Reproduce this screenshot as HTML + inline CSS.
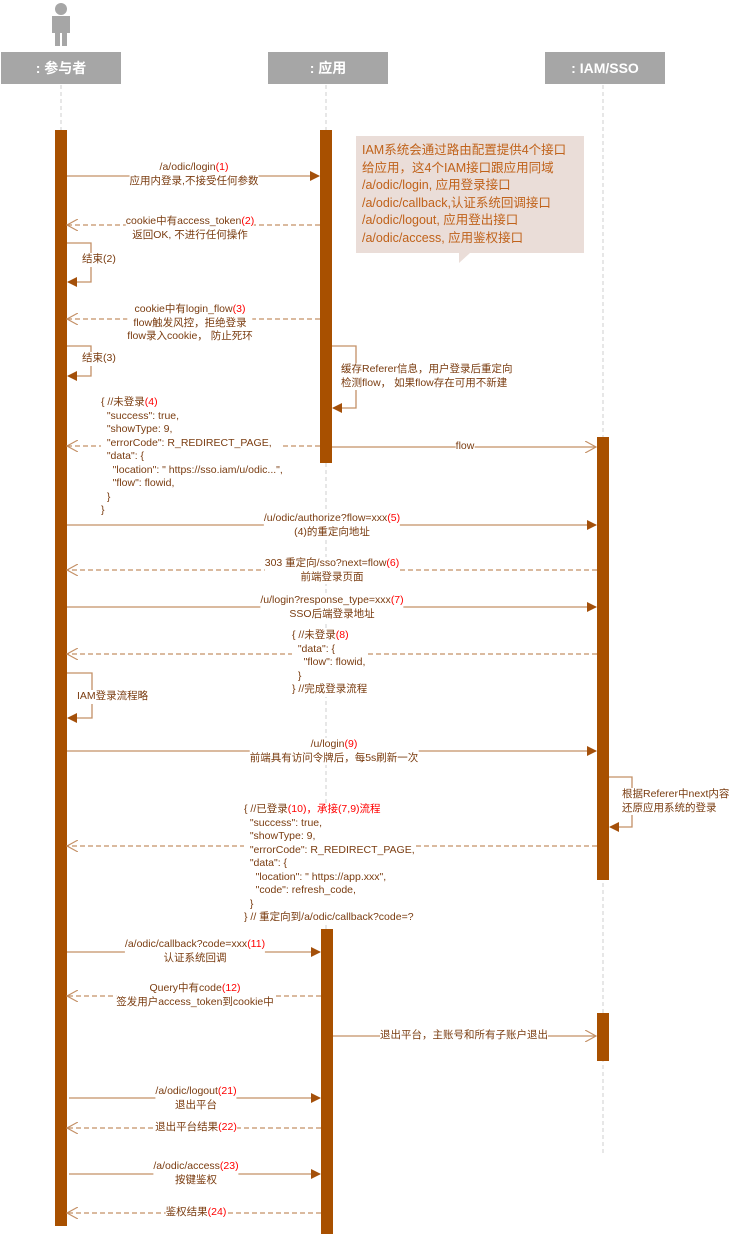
<!DOCTYPE html>
<html><head><meta charset="utf-8"><style>
body{margin:0;width:735px;height:1235px;background:#fff;position:relative;overflow:hidden;font-family:"Liberation Sans","Noto Sans CJK SC",sans-serif;}
svg{position:absolute;left:0;top:0}
.t{position:absolute;font-size:10.5px;line-height:13.5px;color:#7a3c10;white-space:nowrap;background:#fff;}
.c{transform:translateX(-50%);text-align:center;}
.r{color:#f00}
.h{position:absolute;background:#a6a6a6;color:#fff;font-weight:bold;font-size:14px;line-height:32px;text-align:center;width:120px;top:52px;height:32px}
.note{position:absolute;left:356px;top:136px;width:228px;height:117px;background:#eaddd8;color:#c0621a;font-size:12.5px;line-height:17.5px;padding:6px 0 0 6px;box-sizing:border-box;white-space:nowrap}
</style></head><body>
<svg width="735" height="1235">
<defs>
<marker id="f" markerWidth="10" markerHeight="10" refX="9" refY="5" orient="auto" markerUnits="userSpaceOnUse"><path d="M0,0 L10,5 L0,10z" fill="#a4500a"/></marker>
<marker id="o" markerWidth="12" markerHeight="12" refX="11" refY="6" orient="auto" markerUnits="userSpaceOnUse"><path d="M0,0 L11,6 L0,12" fill="none" stroke="#c49066" stroke-width="1.2"/></marker>
</defs>
<!-- actor icon -->
<g fill="#a6a6a6"><circle cx="61" cy="9" r="6"/><rect x="52" y="16" width="18" height="17"/><rect x="55" y="30" width="5" height="16"/><rect x="62" y="30" width="5" height="16"/></g>
<g stroke="#cfcfcf" stroke-dasharray="4,3" stroke-width="1">
<line x1="61" y1="85" x2="61" y2="130"/><line x1="326" y1="85" x2="326" y2="930"/><line x1="603" y1="85" x2="603" y2="1155"/>
</g>
<g fill="#a85000">
<rect x="55" y="130" width="12" height="1096"/>
<rect x="320" y="130" width="12" height="333"/>
<rect x="321" y="929" width="12" height="305"/>
<rect x="597" y="437" width="12" height="443"/>
<rect x="597" y="1013" width="12" height="48"/>
</g>
<path d="M459,253 L470,253 L459,263z" fill="#eaddd8"/>
<g stroke="#c49066" stroke-width="1.3" fill="none">
<line x1="67" y1="176" x2="319" y2="176" marker-end="url(#f)"/>
<line x1="320" y1="225" x2="67" y2="225" stroke-dasharray="5,3" marker-end="url(#o)"/>
<polyline points="67,243 91,243 91,282 68,282" marker-end="url(#f)"/>
<line x1="320" y1="319" x2="67" y2="319" stroke-dasharray="5,3" marker-end="url(#o)"/>
<polyline points="67,346 91,346 91,376 68,376" marker-end="url(#f)"/>
<polyline points="332,346 356,346 356,408 333,408" marker-end="url(#f)"/>
<line x1="320" y1="446" x2="67" y2="446" stroke-dasharray="5,3" marker-end="url(#o)"/>
<line x1="332" y1="447" x2="596" y2="447" marker-end="url(#o)"/>
<line x1="67" y1="525" x2="596" y2="525" marker-end="url(#f)"/>
<line x1="597" y1="570" x2="67" y2="570" stroke-dasharray="5,3" marker-end="url(#o)"/>
<line x1="67" y1="607" x2="596" y2="607" marker-end="url(#f)"/>
<line x1="597" y1="654" x2="67" y2="654" stroke-dasharray="5,3" marker-end="url(#o)"/>
<polyline points="67,673 92,673 92,718 68,718" marker-end="url(#f)"/>
<line x1="67" y1="751" x2="596" y2="751" marker-end="url(#f)"/>
<polyline points="609,777 632,777 632,827 610,827" marker-end="url(#f)"/>
<line x1="597" y1="846" x2="67" y2="846" stroke-dasharray="5,3" marker-end="url(#o)"/>
<line x1="67" y1="952" x2="320" y2="952" marker-end="url(#f)"/>
<line x1="321" y1="996" x2="67" y2="996" stroke-dasharray="5,3" marker-end="url(#o)"/>
<line x1="333" y1="1036" x2="596" y2="1036" marker-end="url(#o)"/>
<line x1="69" y1="1098" x2="320" y2="1098" marker-end="url(#f)"/>
<line x1="321" y1="1128" x2="67" y2="1128" stroke-dasharray="5,3" marker-end="url(#o)"/>
<line x1="69" y1="1174" x2="320" y2="1174" marker-end="url(#f)"/>
<line x1="321" y1="1213" x2="67" y2="1213" stroke-dasharray="5,3" marker-end="url(#o)"/>
</g>
</svg>
<div class="h" style="left:1px">: 参与者</div>
<div class="h" style="left:268px">: 应用</div>
<div class="h" style="left:545px">: IAM/SSO</div>
<div class="note">IAM系统会通过路由配置提供4个接口<br>给应用，这4个IAM接口跟应用同域<br>/a/odic/login, 应用登录接口<br>/a/odic/callback,认证系统回调接口<br>/a/odic/logout, 应用登出接口<br>/a/odic/access, 应用鉴权接口</div>

<div class="t c" style="left:194px;top:161px">/a/odic/login<span class="r">(1)</span><br>应用内登录,不接受任何参数</div>
<div class="t c" style="left:190px;top:215px">cookie中有access_token<span class="r">(2)</span><br>返回OK, 不进行任何操作</div>
<div class="t" style="left:82px;top:253px">结束(2)</div>
<div class="t c" style="left:190px;top:303px">cookie中有login_flow<span class="r">(3)</span><br>flow触发风控，拒绝登录<br>flow录入cookie， 防止死环</div>
<div class="t" style="left:82px;top:352px">结束(3)</div>
<div class="t" style="left:341px;top:363px">缓存Referer信息，用户登录后重定向<br>检测flow， 如果flow存在可用不新建</div>
<div class="t" style="left:101px;top:396px;background:transparent"><span style="background:#fff;display:inline-block;line-height:13.5px">{ //未登录<span class="r">(4)</span><br>&nbsp; "success": true,<br>&nbsp; "showType: 9,<br>&nbsp; "errorCode": R_REDIRECT_PAGE,<br>&nbsp; "data": {<br>&nbsp;&nbsp;&nbsp; "location": " https://sso.iam/u/odic...",<br>&nbsp;&nbsp;&nbsp; "flow": flowid,<br>&nbsp; }<br>}</span></div>
<div class="t c" style="left:465px;top:440px">flow</div>
<div class="t c" style="left:332px;top:512px">/u/odic/authorize?flow=xxx<span class="r">(5)</span><br>(4)的重定向地址</div>
<div class="t c" style="left:332px;top:557px">303 重定向/sso?next=flow<span class="r">(6)</span><br>前端登录页面</div>
<div class="t c" style="left:332px;top:594px">/u/login?response_type=xxx<span class="r">(7)</span><br>SSO后端登录地址</div>
<div class="t" style="left:292px;top:629px">{ //未登录<span class="r">(8)</span><br>&nbsp; "data": {<br>&nbsp;&nbsp;&nbsp; "flow": flowid,<br>&nbsp; }<br>} //完成登录流程</div>
<div class="t" style="left:77px;top:690px">IAM登录流程略</div>
<div class="t c" style="left:334px;top:738px">/u/login<span class="r">(9)</span><br>前端具有访问令牌后，每5s刷新一次</div>
<div class="t" style="left:622px;top:788px">根据Referer中next内容<br>还原应用系统的登录</div>
<div class="t" style="left:244px;top:803px">{ //已登录<span class="r">(10)，承接(7,9)流程</span><br>&nbsp; "success": true,<br>&nbsp; "showType: 9,<br>&nbsp; "errorCode": R_REDIRECT_PAGE,<br>&nbsp; "data": {<br>&nbsp;&nbsp;&nbsp; "location": " https://app.xxx",<br>&nbsp;&nbsp;&nbsp; "code": refresh_code,<br>&nbsp; }<br>} // 重定向到/a/odic/callback?code=?</div>
<div class="t c" style="left:195px;top:938px">/a/odic/callback?code=xxx<span class="r">(11)</span><br>认证系统回调</div>
<div class="t c" style="left:195px;top:982px">Query中有code<span class="r">(12)</span><br>签发用户access_token到cookie中</div>
<div class="t" style="left:380px;top:1029px">退出平台，主账号和所有子账户退出</div>
<div class="t c" style="left:196px;top:1085px">/a/odic/logout<span class="r">(21)</span><br>退出平台</div>
<div class="t c" style="left:196px;top:1121px">退出平台结果<span class="r">(22)</span></div>
<div class="t c" style="left:196px;top:1160px">/a/odic/access<span class="r">(23)</span><br>按键鉴权</div>
<div class="t c" style="left:196px;top:1206px">鉴权结果<span class="r">(24)</span></div>
</body></html>
